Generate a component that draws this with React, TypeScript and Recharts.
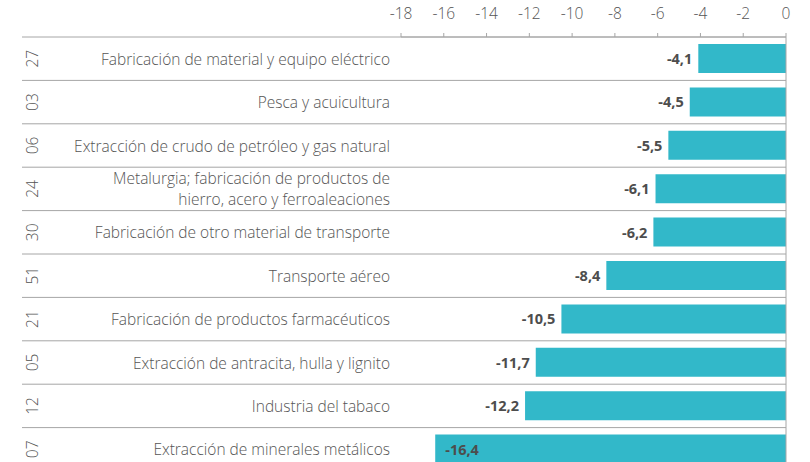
import React from 'react';
import { BarChart, Bar, XAxis, YAxis, ReferenceLine, LabelList } from 'recharts';

const codes = ['27', '03', '06', '24', '30', '51', '21', '05', '12', '07'];
const names = [
  'Fabricación de material y equipo eléctrico',
  'Pesca y acuicultura',
  'Extracción de crudo de petróleo y gas natural',
  'Metalurgia; fabricación de productos de\nhierro, acero y ferroaleaciones',
  'Fabricación de otro material de transporte',
  'Transporte aéreo',
  'Fabricación de productos farmacéuticos',
  'Extracción de antracita, hulla y lignito',
  'Industria del tabaco',
  'Extracción de minerales metálicos',
];
const values = [-4.1, -4.5, -5.5, -6.1, -6.2, -8.4, -10.5, -11.7, -12.2, -16.4];
const xTicks = [-18, -16, -14, -12, -10, -8, -6, -4, -2, 0];

const WIDTH = 810;
const HEIGHT = 471;
const TOP = 37;
const AXIS_W = 401;
const RIGHT = 24;
const STEP = (HEIGHT - TOP) / codes.length;

const TEXT = '#555555';
const GRID = '#a6a6a6';
const BAR = '#32b8c9';
const FONT = '"Open Sans", Lato, sans-serif';
const FS = 15.5;

const data = names.map((name, i) => ({ name, code: codes[i], value: values[i] }));

// left side of each row: code, name and the row separator
const RowTick = (props: any) => {
  const { x, y, payload } = props;
  const i = names.indexOf(payload.value);
  const lines = String(payload.value).split('\n');
  const lh = 21;
  const y0 = y - ((lines.length - 1) * lh) / 2;
  return (
    <g>
      <line x1={22} x2={WIDTH - RIGHT} y1={y - STEP / 2} y2={y - STEP / 2} stroke={GRID} strokeWidth={1} />
      <text
        x={x - 358}
        y={y}
        transform={`rotate(-90, ${x - 358}, ${y})`}
        textAnchor="middle"
        dominantBaseline="central"
        fill={TEXT}
        fontSize={FS}
        fontWeight={300}
        fontFamily={FONT}
      >
        {codes[i]}
      </text>
      {lines.map((l, k) => (
        <text
          key={k}
          x={x}
          y={y0 + k * lh}
          textAnchor="end"
          dominantBaseline="central"
          fill={TEXT}
          fontSize={FS}
          fontWeight={300}
          fontFamily={FONT}
        >
          {l}
        </text>
      ))}
    </g>
  );
};

const ValueLabel = (props: any) => {
  const { x, y, width, height, value } = props;
  const left = Math.min(x, x + width);
  const inside = value < -15;
  return (
    <text
      x={inside ? left + 10 : left - 6}
      y={y + height / 2}
      textAnchor={inside ? 'start' : 'end'}
      dominantBaseline="central"
      fill="#4d4d4d"
      fontSize={14.5}
      fontWeight={700}
      fontFamily={FONT}
    >
      {String(value).replace('.', ',')}
    </text>
  );
};

export default function App() {
  return (
    <div style={{ position: 'absolute', left: 0, top: 0, width: WIDTH, height: 462, overflow: 'hidden', background: '#fff' }}>
      <BarChart
        width={WIDTH}
        height={HEIGHT}
        data={data}
        layout="vertical"
        margin={{ top: 0, right: RIGHT, bottom: 0, left: 0 }}
        barSize={29}
      >
        <XAxis
          type="number"
          orientation="top"
          domain={[-18, 0]}
          ticks={xTicks}
          height={TOP}
          tickSize={4}
          tickMargin={14}
          tick={{ fill: TEXT, fontSize: FS, fontWeight: 300, fontFamily: FONT }}
          axisLine={{ stroke: GRID }}
          tickLine={{ stroke: GRID }}
        />
        <YAxis
          type="category"
          dataKey="name"
          width={AXIS_W}
          tickSize={0}
          tickMargin={11}
          axisLine={false}
          tickLine={false}
          interval={0}
          tick={<RowTick />}
        />
        <ReferenceLine x={0} stroke={GRID} strokeWidth={1} />
        <Bar dataKey="value" fill={BAR} isAnimationActive={false}>
          <LabelList dataKey="value" content={<ValueLabel />} />
        </Bar>
      </BarChart>
    </div>
  );
}
